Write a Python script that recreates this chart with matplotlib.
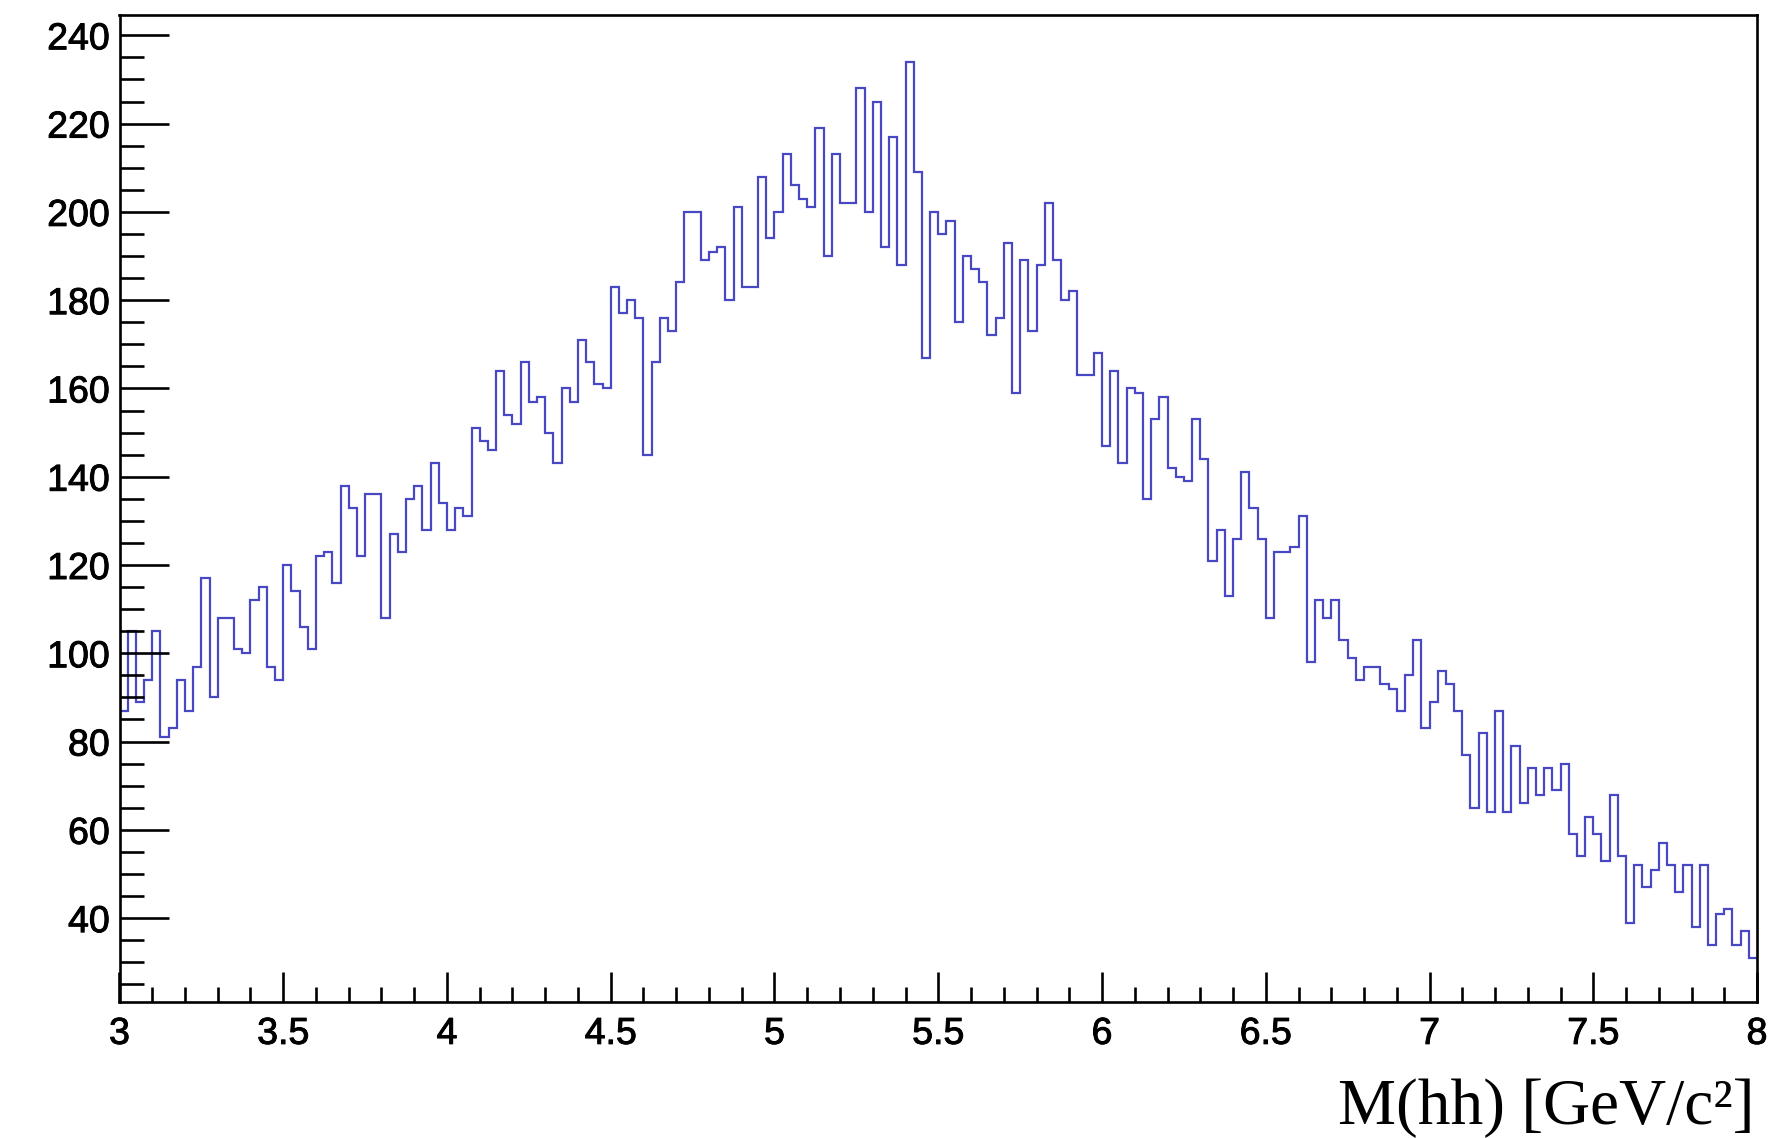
import numpy as np
import matplotlib
matplotlib.use("Agg")
import matplotlib.pyplot as plt
import matplotlib.patheffects as pe
from matplotlib.ticker import MultipleLocator

# ---- data (bin contents, 200 bins from 3 to 8) ----
x_min, x_max, n_bins = 3.0, 8.0, 200
counts = [
    87, 105, 89, 94, 105, 81, 83, 94, 87, 97,
    117, 90, 108, 108, 101, 100, 112, 115, 97, 94,
    120, 114, 106, 101, 122, 123, 116, 138, 133, 122,
    136, 136, 108, 127, 123, 135, 138, 128, 143, 134,
    128, 133, 131, 151, 148, 146, 164, 154, 152, 166,
    157, 158, 150, 143, 160, 157, 171, 166, 161, 160,
    183, 177, 180, 176, 145, 166, 176, 173, 184, 200,
    200, 189, 191, 192, 180, 201, 183, 183, 208, 194,
    200, 213, 206, 203, 201, 219, 190, 213, 202, 202,
    228, 200, 225, 192, 217, 188, 234, 209, 167, 200,
    195, 198, 175, 190, 187, 184, 172, 176, 193, 159,
    189, 173, 188, 202, 189, 180, 182, 163, 163, 168,
    147, 164, 143, 160, 159, 135, 153, 158, 142, 140,
    139, 153, 144, 121, 128, 113, 126, 141, 133, 126,
    108, 123, 123, 124, 131, 98, 112, 108, 112, 103,
    99, 94, 97, 97, 93, 92, 87, 95, 103, 83,
    89, 96, 93, 87, 77, 65, 82, 64, 87, 64,
    79, 66, 74, 68, 74, 69, 75, 59, 54, 63,
    59, 53, 68, 54, 39, 52, 47, 51, 57, 52,
    46, 52, 38, 52, 34, 41, 42, 34, 37, 31,
]
y_ticks = [40, 60, 80, 100, 120, 140, 160, 180, 200, 220, 240]
x_ticks = [3, 3.5, 4, 4.5, 5, 5.5, 6, 6.5, 7, 7.5, 8]
x_tick_labels = ["3", "3.5", "4", "4.5", "5", "5.5", "6", "6.5", "7", "7.5", "8"]
x_title = "M(hh) [GeV/c\u00b2]"

# ---- figure ----
W, H = 1789, 1138
fig = plt.figure(figsize=(W / 100, H / 100), dpi=100, facecolor="white")
ax_left, ax_right = 119.5 / W, 1757.0 / W
ax_top, ax_bottom = 1 - 15.0 / H, 1 - 1002.0 / H
ax = fig.add_axes([ax_left, ax_bottom, ax_right - ax_left, ax_top - ax_bottom])

edges = np.linspace(x_min, x_max, n_bins + 1)
ax.stairs(counts, edges, baseline=None, color="#4848c4", linewidth=1.6)

ax.set_xlim(x_min, x_max)
ax.set_ylim(21.0, 244.6)

ax.set_xticks(x_ticks)
ax.set_xticklabels(x_tick_labels)
ax.set_yticks(y_ticks)
ax.xaxis.set_minor_locator(MultipleLocator(0.1))
ax.yaxis.set_minor_locator(MultipleLocator(5))

stroke = [pe.withStroke(linewidth=0.7, foreground="black")]
for lbl in ax.get_xticklabels() + ax.get_yticklabels():
    lbl.set_fontfamily(["Liberation Sans", "DejaVu Sans"])
    lbl.set_fontsize(27)
    lbl.set_path_effects(stroke)

ax.tick_params(axis="both", which="both", direction="in", top=False, right=False,
               width=1.9, color="black")
ax.tick_params(axis="x", which="major", length=21.3, pad=10)
ax.tick_params(axis="x", which="minor", length=10.6)
ax.tick_params(axis="y", which="major", length=35.3, pad=7)
ax.tick_params(axis="y", which="minor", length=17.6)
for sp in ax.spines.values():
    sp.set_linewidth(1.9)
    sp.set_color("black")

fig.text(1755.0 / W, 1 - 1124.0 / H, x_title, ha="right", va="baseline",
         fontsize=47, family=["Liberation Serif", "DejaVu Serif"])

fig.savefig("out.png", dpi=100, facecolor="white")
